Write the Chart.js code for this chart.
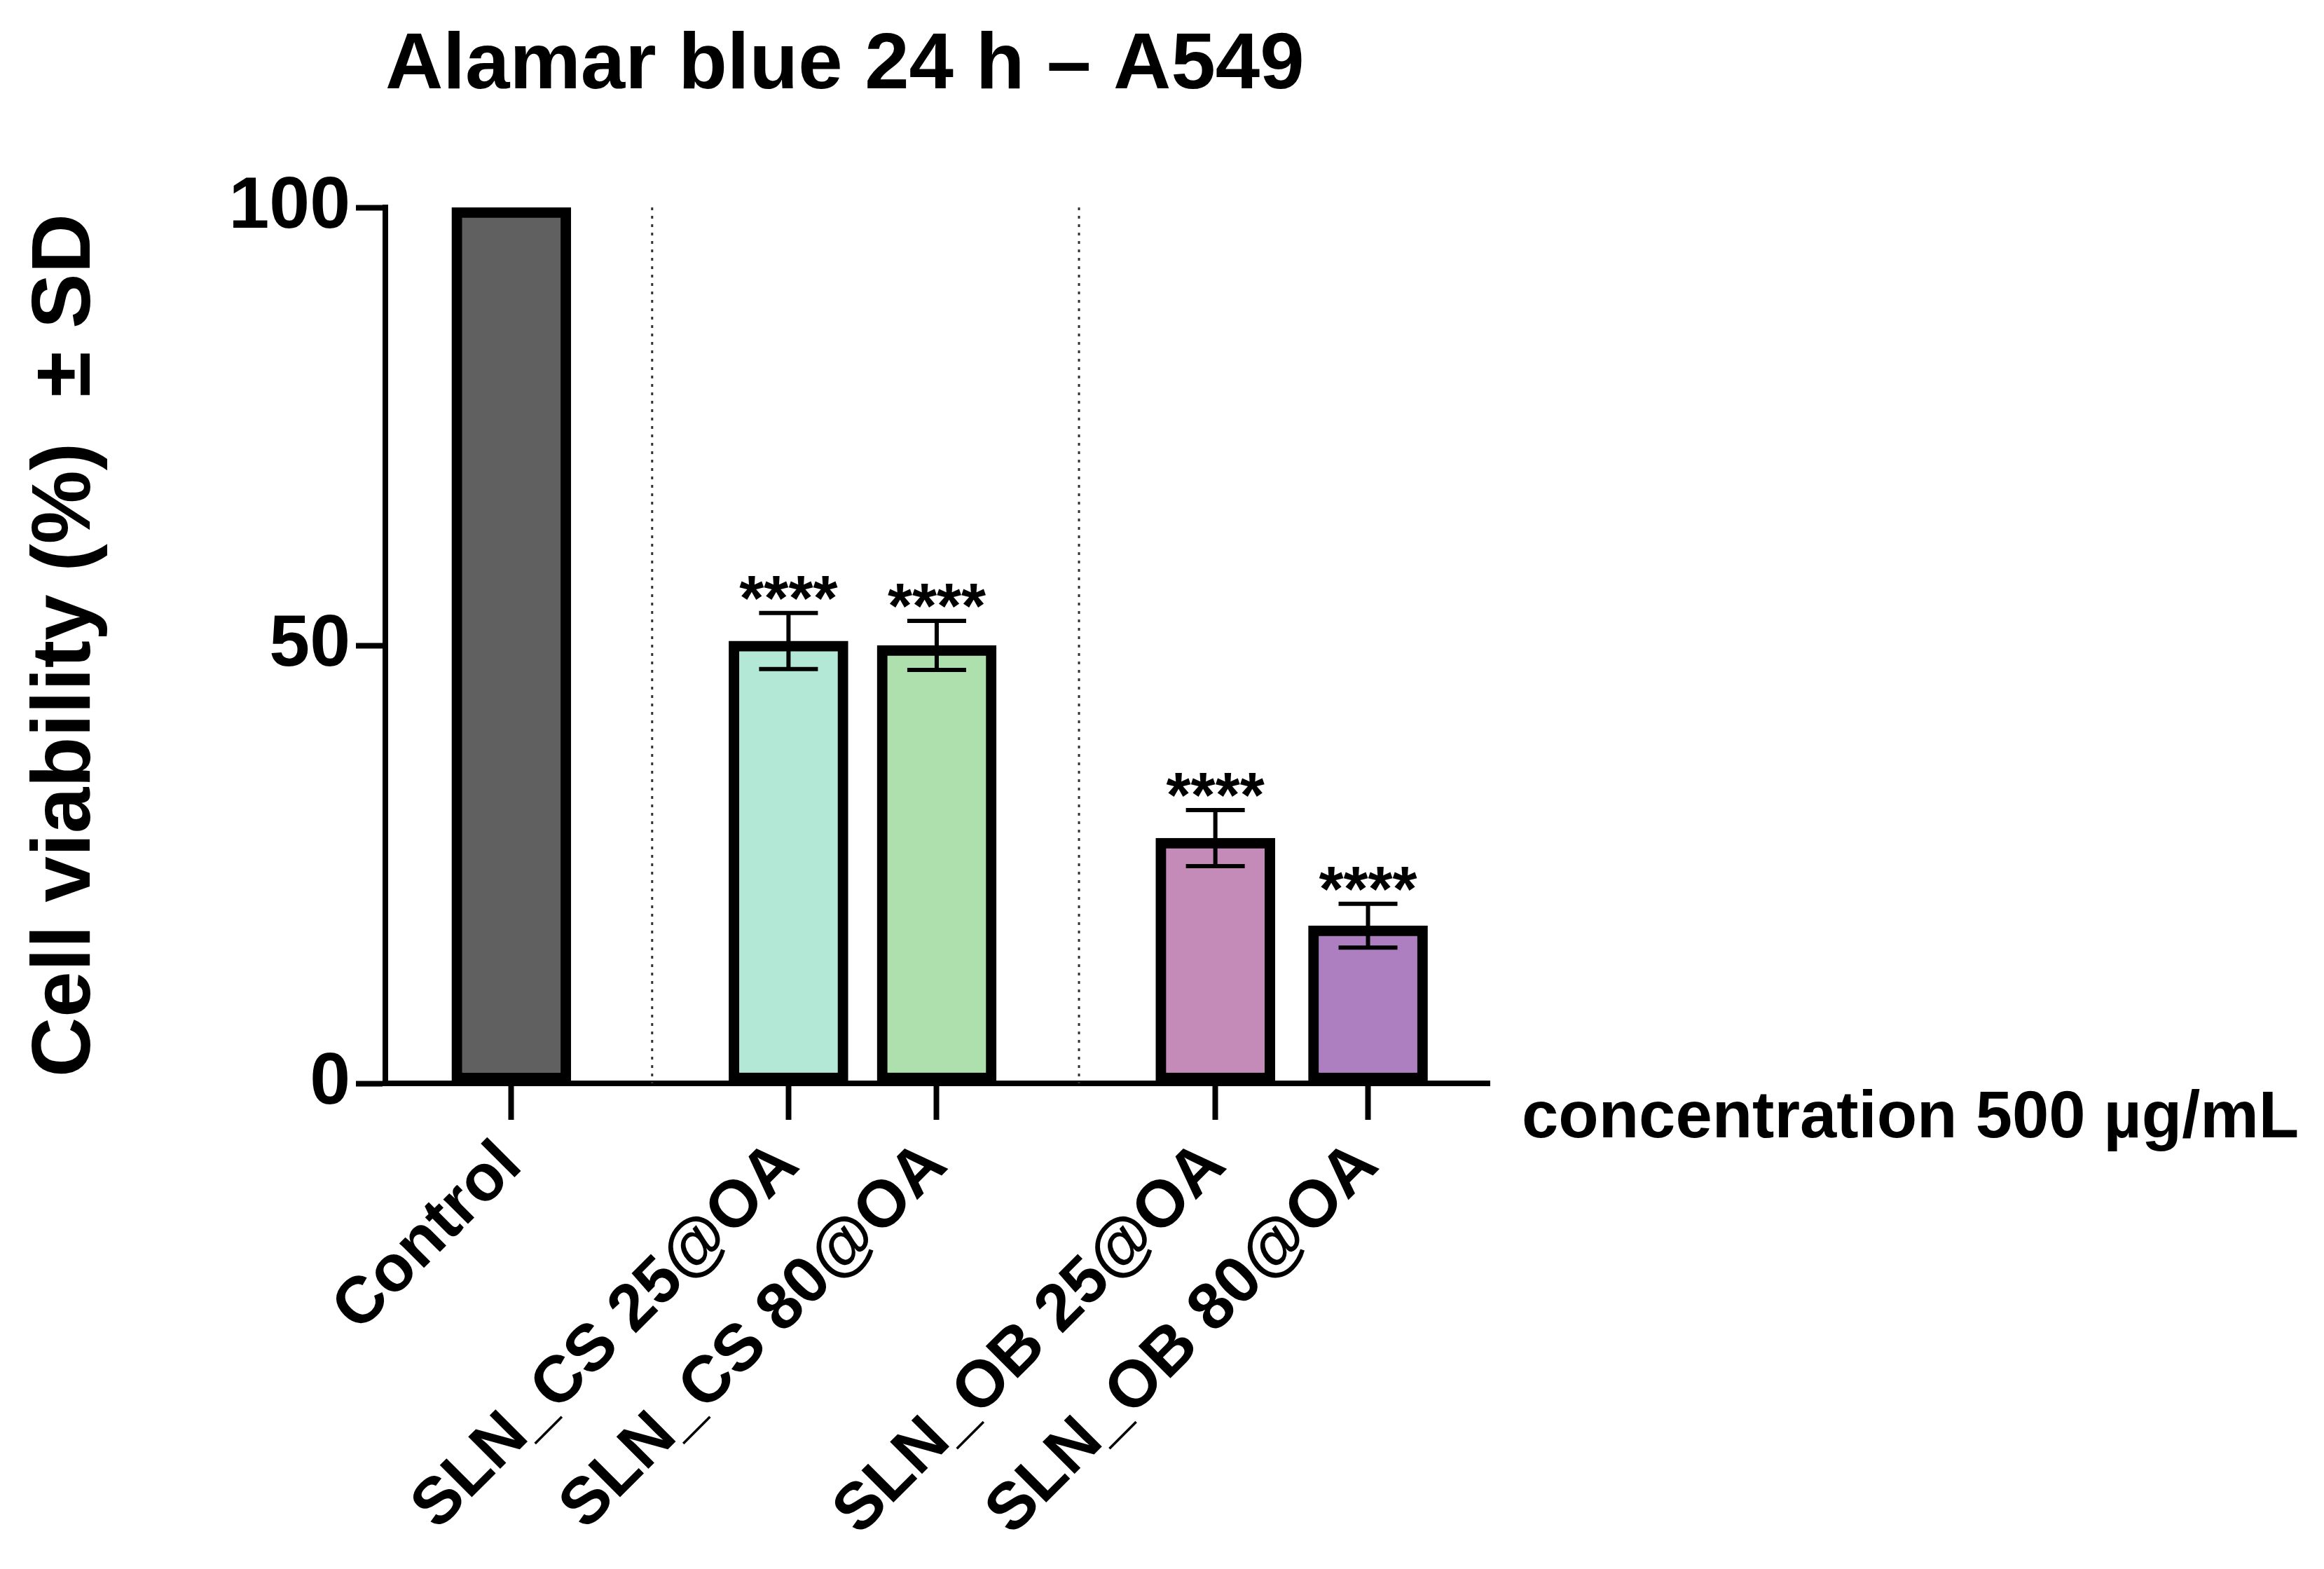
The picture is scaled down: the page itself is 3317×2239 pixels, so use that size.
<!DOCTYPE html>
<html><head><meta charset="utf-8">
<script src="https://cdn.jsdelivr.net/npm/chart.js@4"></script>
<style>html,body{margin:0;padding:0;background:#fff}canvas{display:block}</style>
</head><body>
<div style="width:3317px;height:2239px"><canvas id="c"></canvas></div>
<script>
const categories = ["Control","SLN_CS 25@OA","SLN_CS 80@OA","SLN_OB 25@OA","SLN_OB 80@OA"];
const positions = [0, 1.87, 2.87, 4.75, 5.78];
const dividers = [0.95, 3.83];
const values = [100, 50.5, 50, 28, 18];
const sd = [0, 3.2, 2.8, 3.2, 2.5];
const stars = ["", "****", "****", "****", "****"];
const colors = ["#606060","#b3e8d6","#aee0ad","#c48bb8","#ad7fc0"];
const yTicks = [0, 50, 100];
const FONT = "Liberation Sans, Arial, sans-serif";

const extras = {
  id: 'extras',
  afterDatasetsDraw(chart) {
    const ctx = chart.ctx, xs = chart.scales.x, ys = chart.scales.y, a = chart.chartArea;
    ctx.save();
    ctx.strokeStyle = '#333'; ctx.lineWidth = 3; ctx.setLineDash([4, 8]);
    dividers.forEach(d => { const x = xs.getPixelForValue(d); ctx.beginPath(); ctx.moveTo(x, a.top); ctx.lineTo(x, a.bottom); ctx.stroke(); });
    ctx.setLineDash([]);
    ctx.strokeStyle = '#000'; ctx.lineWidth = 6; ctx.fillStyle = '#000';
    positions.forEach((p, i) => {
      if (!sd[i]) return;
      const x = xs.getPixelForValue(p), yt = ys.getPixelForValue(values[i] + sd[i]), yb = ys.getPixelForValue(values[i] - sd[i]);
      ctx.beginPath(); ctx.moveTo(x, yt); ctx.lineTo(x, yb);
      ctx.moveTo(x - 42, yt); ctx.lineTo(x + 42, yt);
      ctx.moveTo(x - 42, yb); ctx.lineTo(x + 42, yb); ctx.stroke();
      ctx.font = 'bold 90px ' + FONT; ctx.textAlign = 'center'; ctx.textBaseline = 'alphabetic';
      ctx.fillText(stars[i], x, yt + 10);
    });
    ctx.font = 'bold 114px ' + FONT; ctx.textAlign = 'left'; ctx.textBaseline = 'middle';
    ctx.fillText('Alamar blue 24 h \u2013 A549', 550, 95);
    ctx.font = 'bold 94px ' + FONT;
    ctx.fillText('concentration 500 \u00b5g/mL', 2172, 1597);
    ctx.translate(95, (a.top + a.bottom) / 2); ctx.rotate(-Math.PI / 2);
    ctx.textAlign = 'center'; ctx.font = 'bold 118px ' + FONT;
    ctx.fillText('Cell viability (%)  \u00b1 SD', 0, 0);
    ctx.restore();
  }
};

new Chart(document.getElementById('c'), {
  type: 'bar',
  data: { datasets: [{
    data: positions.map((p, i) => ({ x: p, y: values[i] })),
    backgroundColor: colors, borderColor: '#000', borderWidth: 15, borderSkipped: false,
    barThickness: 170
  }]},
  options: {
    responsive: true, maintainAspectRatio: false, animation: false,
    layout: { padding: { left: 0, top: 296, right: 1191, bottom: 0 } },
    plugins: { legend: { display: false }, tooltip: { enabled: false } },
    scales: {
      x: { type: 'linear', min: -0.85, max: 6.6, offset: false,
        afterBuildTicks: s => { s.ticks = positions.map(v => ({ value: v })); },
        afterFit: s => { s.height = 693; },
        ticks: { autoSkip: false, minRotation: 45, maxRotation: 45, color: '#000', padding: 10,
          font: { family: FONT, size: 94, weight: 'bold' },
          callback: (v) => categories[positions.indexOf(v)] },
        grid: { offset: false, drawOnChartArea: false, tickLength: 52, tickWidth: 8, color: '#000' },
        border: { color: '#000', width: 8 } },
      y: { min: 0, max: 100,
        afterBuildTicks: s => { s.ticks = yTicks.map(v => ({ value: v })); },
        afterFit: s => { s.width = 550; },
        ticks: { color: '#000', padding: 8, font: { family: FONT, size: 104, weight: 'bold' } },
        grid: { drawOnChartArea: false, tickLength: 42, tickWidth: 8, color: '#000' },
        border: { color: '#000', width: 8 } }
    }
  },
  plugins: [extras]
});
</script></body></html>
